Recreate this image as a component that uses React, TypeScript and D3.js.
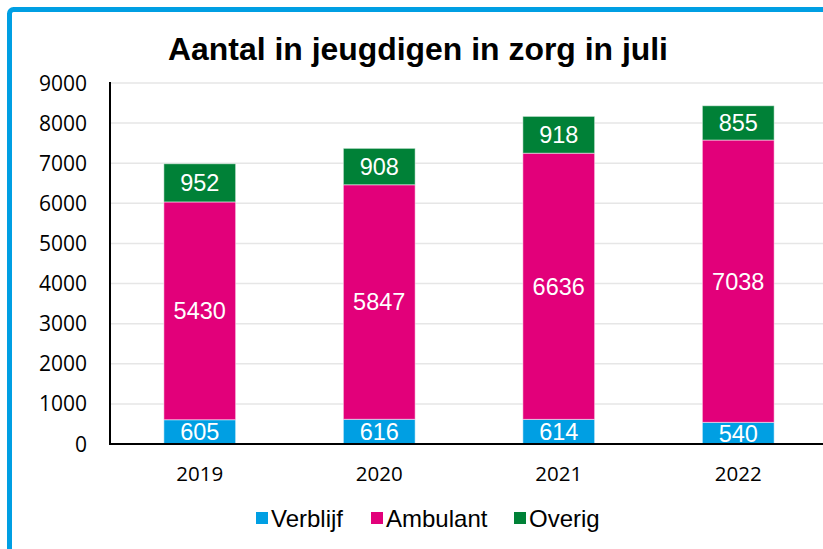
import React from "react";
import * as d3 from "d3";

const categories = ["2019", "2020", "2021", "2022"];
const seriesNames = ["Verblijf", "Ambulant", "Overig"];
const verblijf = [605, 616, 614, 540];
const ambulant = [5430, 5847, 6636, 7038];
const overig = [952, 908, 918, 855];
const yTicks = [0, 1000, 2000, 3000, 4000, 5000, 6000, 7000, 8000, 9000];
const colors = ["#009FE3", "#E2007A", "#008137"];

export default function App() {
  const W = 823, H = 549;
  const x0 = 110, x1 = 828, yTop = 83, yBot = 444;
  const x = d3.scaleBand().domain(categories).range([x0, x1]).paddingInner(0.6).paddingOuter(0.3);
  const y = d3.scaleLinear().domain([0, 9000]).range([yBot, yTop]);
  const rows = categories.map((c, i) => ({ cat: c, Verblijf: verblijf[i], Ambulant: ambulant[i], Overig: overig[i] }));
  const stack = d3.stack<any>().keys(seriesNames)(rows);
  const bw = x.bandwidth();
  const legendX = [256, 371, 514];
  return (
    <svg width={W} height={H} style={{ position: "absolute", left: 0, top: 0, background: "#fff" }}>
      <rect x={9.5} y={9.5} width={W + 20} height={H + 20} rx={4} fill="none" stroke="#009FE3" strokeWidth={5} />
      <text x={418} y={60} textAnchor="middle" fontFamily="Liberation Sans, Arial, sans-serif" fontWeight="bold" fontSize={31} fill="#000" textLength={500} lengthAdjust="spacingAndGlyphs">
        Aantal in jeugdigen in zorg in juli
      </text>
      {yTicks.map((t) => (
        <g key={t}>
          {t > 0 && <line x1={x0} x2={W} y1={y(t)} y2={y(t)} stroke="#E6E6E6" strokeWidth={1.5} />}
          <text x={87} y={y(t)} dy="0.36em" textAnchor="end" fontFamily="Open Sans, sans-serif" fontSize={21} fill="#000">{t}</text>
        </g>
      ))}
      {stack.map((s, si) =>
        s.map((d, i) => {
          const cat = categories[i];
          const yy0 = y(d[1]), yy1 = y(d[0]);
          return (
            <g key={si + "-" + i}>
              <rect x={x(cat)!} y={yy0} width={bw} height={yy1 - yy0} fill={colors[si]} stroke="#ffffff" strokeOpacity={0.5} strokeWidth={1} />
              <text x={x(cat)! + bw / 2} y={(yy0 + yy1) / 2} dy="0.36em" textAnchor="middle" fontFamily="Liberation Sans, Arial, sans-serif" fontSize={23.5} fill="#fff">
                {d[1] - d[0]}
              </text>
            </g>
          );
        })
      )}
      <line x1={x0} x2={x0} y1={yTop - 1} y2={yBot + 1} stroke="#000" strokeWidth={2} />
      <line x1={x0} x2={W} y1={yBot} y2={yBot} stroke="#000" strokeWidth={2} />
      {categories.map((c) => (
        <text key={c} x={x(c)! + bw / 2} y={474} dy="0.36em" textAnchor="middle" fontFamily="Open Sans, sans-serif" fontSize={20.5} fill="#000">{c}</text>
      ))}
      {seriesNames.map((n, i) => (
        <g key={n}>
          <rect x={legendX[i]} y={512} width={12} height={12} fill={colors[i]} />
          <text x={legendX[i] + 15} y={518} dy="0.36em" fontFamily="Liberation Sans, Arial, sans-serif" fontSize={24} fill="#000">{n}</text>
        </g>
      ))}
    </svg>
  );
}
